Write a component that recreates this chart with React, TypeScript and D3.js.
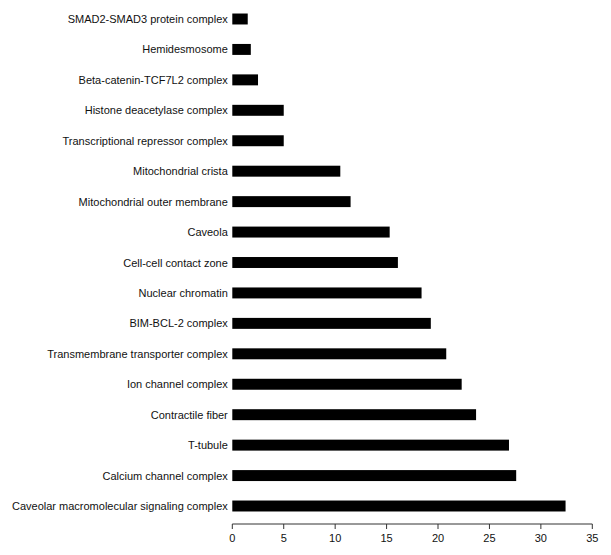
import React from "react";
import * as d3 from "d3";

const categories = [
  "SMAD2-SMAD3 protein complex",
  "Hemidesmosome",
  "Beta-catenin-TCF7L2 complex",
  "Histone deacetylase complex",
  "Transcriptional repressor complex",
  "Mitochondrial crista",
  "Mitochondrial outer membrane",
  "Caveola",
  "Cell-cell contact zone",
  "Nuclear chromatin",
  "BIM-BCL-2 complex",
  "Transmembrane transporter complex",
  "Ion channel complex",
  "Contractile fiber",
  "T-tubule",
  "Calcium channel complex",
  "Caveolar macromolecular signaling complex",
];

const values = [1.5, 1.8, 2.5, 5.0, 5.0, 10.5, 11.5, 15.3, 16.1, 18.4, 19.3, 20.8, 22.3, 23.7, 26.9, 27.6, 32.4];

const xTicks = [0, 5, 10, 15, 20, 25, 30, 35];

const W = 611;
const H = 555;
const x0 = 232.3;
const x1 = 592.3;
const axisY = 524;

export default function App() {
  const x = d3.scaleLinear().domain([0, 35]).range([x0, x1]);
  const y = d3
    .scaleBand<string>()
    .domain(categories)
    .range([0, 525])
    .paddingInner(0.64)
    .paddingOuter(0.444);
  const bw = y.bandwidth();
  const font = "Liberation Sans, Arial, sans-serif";
  return (
    <svg
      width={W}
      height={H}
      style={{ position: "absolute", left: 0, top: 0, background: "#fff" }}
      fontFamily={font}
    >
      {categories.map((c, i) => (
        <g key={c}>
          <rect
            x={x(0)}
            y={y(c)!}
            width={x(values[i]) - x(0)}
            height={bw}
            fill="#000"
          />
          <text
            x={x0 - 4.5}
            y={y(c)! + bw / 2}
            textAnchor="end"
            dominantBaseline="central"
            fontSize={11}
            fill="#111"
          >
            {c}
          </text>
        </g>
      ))}
      <g>
        <line x1={x(0)} x2={x(35)} y1={axisY} y2={axisY} stroke="#333" strokeWidth={1} />
        {xTicks.map((t) => (
          <g key={t} transform={`translate(${x(t)},${axisY})`}>
            <line y1={0} y2={5} stroke="#333" strokeWidth={1} />
            <text y={18} textAnchor="middle" fontSize={11} fill="#111">
              {t}
            </text>
          </g>
        ))}
      </g>
    </svg>
  );
}
